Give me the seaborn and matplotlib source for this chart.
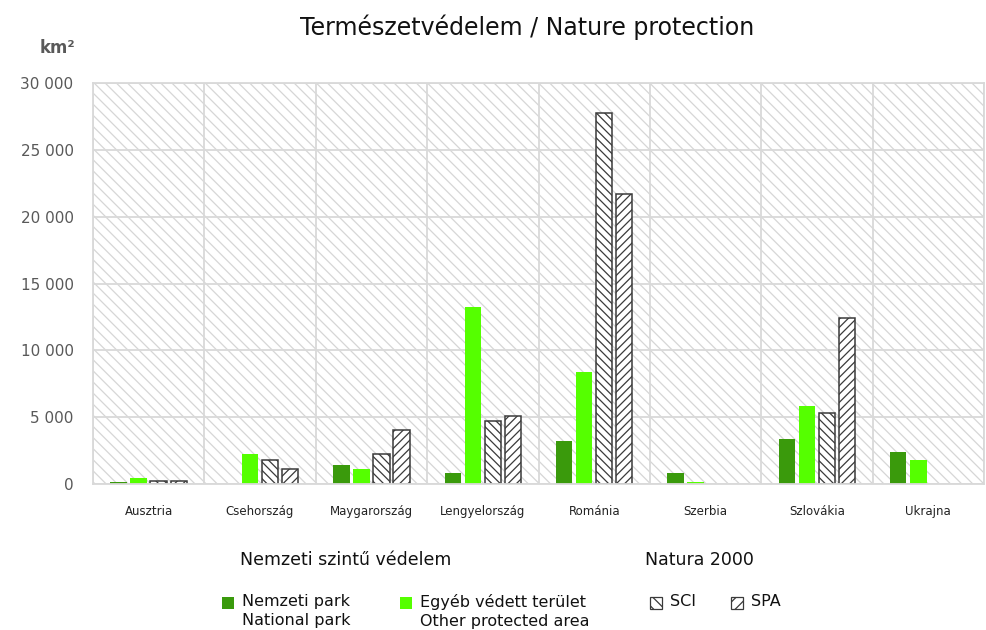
import seaborn as sns
import matplotlib.pyplot as plt
from matplotlib.patches import Rectangle
from matplotlib.ticker import FuncFormatter
import pandas as pd
import numpy as np

# data (km2)
countries = ["Ausztria", "Csehország", "Maygarország", "Lengyelország",
             "Románia", "Szerbia", "Szlovákia", "Ukrajna"]
series = ["Nemzeti park", "Egyéb védett terület", "SCI", "SPA"]
national_park = [170, np.nan, 1420, 850, 3220, 850, 3340, 2370]
other_protected = [420, 2240, 1100, 13250, 8400, 170, 5810, 1790]
sci = [250, 1790, 2240, 4710, 27790, np.nan, 5290, np.nan]
spa = [250, 1100, 4040, 5110, 21730, np.nan, 12410, np.nan]
y_ticks = [0, 5000, 10000, 15000, 20000, 25000, 30000]

dark_green = "#3a9a0c"
light_green = "#55ff00"
grid_col = "#d9d9d9"

df = pd.DataFrame({"country": countries,
                   series[0]: national_park,
                   series[1]: other_protected,
                   series[2]: sci,
                   series[3]: spa})
long = df.melt(id_vars="country", var_name="series", value_name="area")

sns.set_style("white")
plt.rcParams["hatch.linewidth"] = 0.9

fig = plt.figure(figsize=(9.86, 6.3), dpi=100)
ax = fig.add_axes([0.0943, 0.2317, 0.9037, 0.6366])

# hatched light grey plot background
ax.set_facecolor("white")
ax.patch.set_hatch("\\\\\\")
ax.patch.set_edgecolor("#d6d6d6")
ax.patch.set_linewidth(0)

sns.barplot(data=long, x="country", y="area", hue="series",
            order=countries, hue_order=series,
            palette=[dark_green, light_green, "white", "white"], saturation=1,
            width=0.72, gap=0.18, errorbar=None, legend=False, ax=ax)

hatches = [None, None, "\\\\\\\\", "////"]
for cont, h in zip(ax.containers, hatches):
    for bar in cont:
        if h is None:
            bar.set_linewidth(0)
        else:
            bar.set_facecolor("white")
            bar.set_edgecolor("#3a3a3a")
            bar.set_hatch(h)
            bar.set_linewidth(1.1)

ax.set_ylim(0, 30000)
ax.set_yticks(y_ticks)
ax.yaxis.set_major_formatter(FuncFormatter(lambda v, p: f"{int(v):,}".replace(",", " ")))
ax.set_xticks(np.arange(-0.5, len(countries), 1), minor=True)
ax.set_axisbelow(True)
ax.grid(axis="y", which="major", color=grid_col, lw=1.3)
ax.grid(axis="x", which="minor", color=grid_col, lw=1.3)
ax.grid(axis="x", which="major", visible=False)
ax.tick_params(which="both", length=0)
ax.tick_params(axis="y", labelsize=11, labelcolor="#595959", pad=14)
ax.tick_params(axis="x", labelsize=8.5, labelcolor="#222222", pad=15)
ax.set_xlabel("")
ax.set_ylabel("")
for s in ax.spines.values():
    s.set_color(grid_col)
    s.set_linewidth(1.3)

fig.text(0.535, 0.957, "Természetvédelem / Nature protection",
         ha="center", va="center", fontsize=17, color="#111111")
fig.text(0.058, 0.924, "km²", ha="center", va="center",
         fontsize=12, fontweight="bold", color="#595959")

# legend
W, H = 986, 630
fig.text(240 / W, 1 - 560 / H, "Nemzeti szintű védelem", ha="left", va="center",
         fontsize=12.5, color="#111111")
fig.text(645 / W, 1 - 560 / H, "Natura 2000", ha="left", va="center",
         fontsize=12.5, color="#111111")

entries = [(222, dark_green, None, "Nemzeti park\nNational park"),
           (400, light_green, None, "Egyéb védett terület\nOther protected area"),
           (650, "white", "\\\\\\", "SCI"),
           (731, "white", "///", "SPA")]
for x0, fc, h, label in entries:
    if h is None:
        r = Rectangle((x0 / W, 1 - 609 / H), 12 / W, 12 / H, transform=fig.transFigure,
                      facecolor=fc, edgecolor="none")
    else:
        r = Rectangle((x0 / W, 1 - 609 / H), 12 / W, 12 / H, transform=fig.transFigure,
                      facecolor=fc, edgecolor="#3a3a3a", hatch=h, lw=0.9)
    fig.add_artist(r)
    fig.text((x0 + 20) / W, 1 - 594 / H, label, ha="left", va="top",
             fontsize=11.5, color="#111111", linespacing=1.3)

plt.savefig("out.png", dpi=100)
